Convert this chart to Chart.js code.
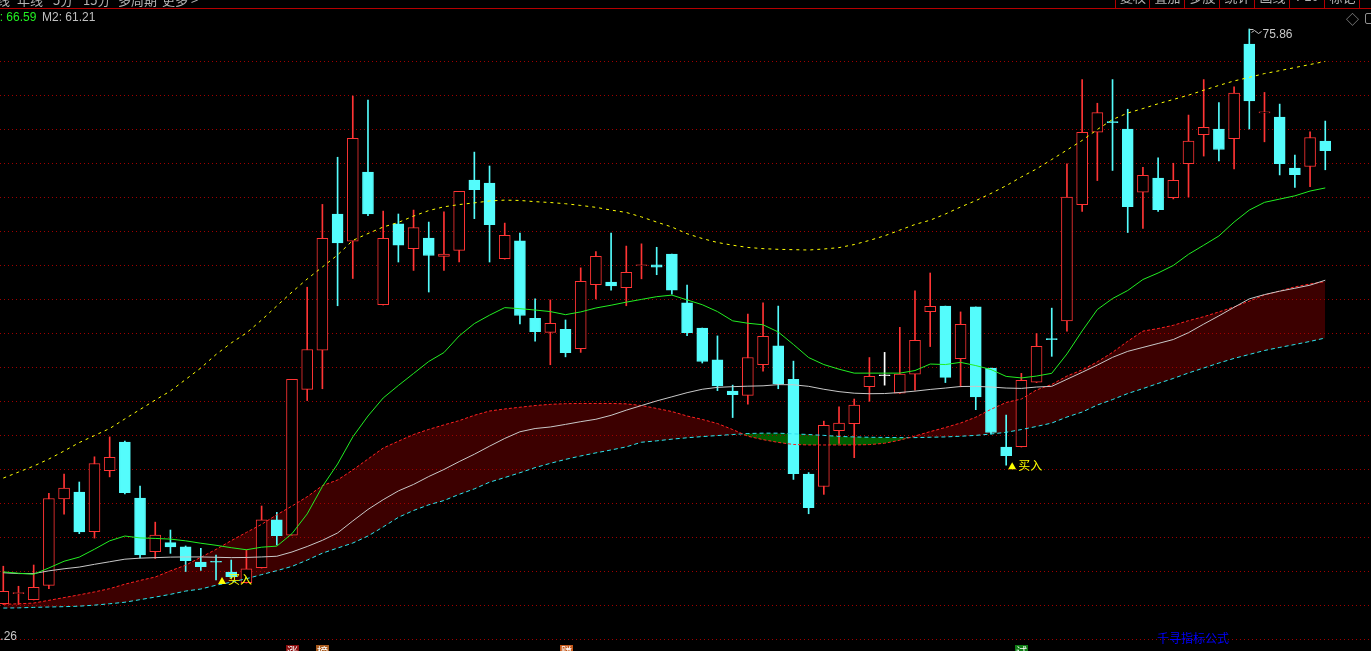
<!DOCTYPE html>
<html>
<head>
<meta charset="utf-8">
<script src="https://cdn.jsdelivr.net/npm/chart.js"></script>
<style>
  html, body { margin: 0; padding: 0; background: #000; overflow: hidden; }
  #wrap { position: relative; width: 1371px; height: 651px; overflow: hidden; }
  #box { position: absolute; left: 0; top: 0; width: 1371px; height: 651px; }
  .cn { font-family: "Noto Sans CJK SC", "DejaVu Sans", sans-serif; }
  .num { font-family: "Liberation Sans", Arial, sans-serif; }
  #menu { position: absolute; top: -7px; left: 0; height: 14px; color: #b4b4b4; font-size: 13px; line-height: 14px; }
  #menu span { position: absolute; white-space: nowrap; }
  #topline { position: absolute; left: 0; top: 8px; width: 1371px; height: 1px; background: #b40000; }
  .btn { position: absolute; top: -10px; height: 18px; border-left: 1px solid #b40000; color: #b4b4b4;
         font-size: 13px; line-height: 14px; text-align: center; }
  #legend { position: absolute; top: 10px; font-size: 12px; line-height: 14px; white-space: nowrap; }
  #brand { position: absolute; left: 1157px; top: 631px; color: #0000ff; font-size: 12px; line-height: 14px; }
</style>
</head>
<body>
<div id="wrap">
  <div id="box"><canvas id="kline"></canvas></div>

  <!-- top toolbar, mostly scrolled off the top -->
  <div id="menu" class="cn">
    <span style="left:-16px">周线</span>
    <span style="left:17px">年线</span>
    <span style="left:53px">5分</span>
    <span style="left:83px">15分</span>
    <span style="left:118px">多周期</span>
    <span style="left:162px">更多 &gt;</span>
  </div>
  <div id="topline"></div>
  <div class="btn cn" style="left:1115px;width:34px">复权</div>
  <div class="btn cn" style="left:1149px;width:35px">叠加</div>
  <div class="btn cn" style="left:1184px;width:35px">多股</div>
  <div class="btn cn" style="left:1219px;width:35px">统计</div>
  <div class="btn cn" style="left:1254px;width:35px">画线</div>
  <div class="btn num" style="left:1289px;width:35px">F10</div>
  <div class="btn cn" style="left:1324px;width:35px">标记</div>
  <div class="btn cn" style="left:1359px;width:20px"></div>

  <div id="legend" class="num" style="left:-17px;color:#22ee22"><span id="m1"></span></div>
  <div id="legend2" class="num" style="position:absolute;top:10px;left:42px;font-size:12px;line-height:14px;color:#c0c0c0;white-space:nowrap"><span id="m2"></span></div>
  <div class="cn" style="position:absolute;left:1346px;top:9px;color:#909090;font-size:13px">◇</div>
  <div style="position:absolute;left:1365px;top:13px;width:8px;height:9px;border:1px solid #909090;border-radius:2px"></div>

  <div id="brand" class="cn">千寻指标公式</div>
</div>

<script>
// candles (price units)
const opens = [42.34, 42.93, 42.58, 43.41, 48.46, 48.86, 46.55, 50.10, 51.77, 48.51,
  45.38, 45.91, 45.66, 44.77, 44.82, 44.19, 43.57, 44.44, 47.23, 46.34,
  54.84, 57.13, 65.07, 63.48, 67.51, 59.78, 64.50, 63.05, 63.67, 62.59,
  62.95, 67.05, 66.88, 62.46, 63.50, 58.99, 58.17, 58.34, 57.21, 60.95,
  61.10, 60.78, 62.05, 62.10, 62.74, 59.89, 58.42, 56.56, 54.75, 54.49,
  56.28, 57.38, 55.43, 49.91, 49.18, 52.43, 52.84, 55.00, 55.64, 54.62,
  55.73, 59.38, 59.70, 56.64, 59.65, 56.09, 51.48, 51.50, 55.26, 57.80,
  58.83, 65.61, 69.84, 70.45, 70.02, 66.34, 67.16, 66.03, 68.00, 69.70,
  70.03, 69.46, 74.98, 70.97, 70.73, 67.75, 67.84, 69.32];
const highs = [44.53, 43.36, 44.60, 48.78, 49.91, 49.44, 50.91, 52.07, 51.83, 49.21,
  47.10, 46.64, 45.71, 45.57, 45.18, 44.89, 45.48, 48.04, 47.67, 55.43,
  60.80, 65.63, 68.38, 71.95, 71.72, 65.24, 65.07, 65.30, 64.60, 65.20,
  66.39, 68.68, 67.87, 64.54, 63.96, 60.12, 60.06, 58.89, 61.93, 62.88,
  63.96, 63.20, 63.33, 63.13, 62.74, 60.93, 58.42, 57.96, 55.09, 59.23,
  59.89, 59.70, 56.49, 49.99, 52.99, 53.82, 54.28, 56.70, 57.00, 58.46,
  60.59, 61.63, 59.70, 59.36, 59.65, 56.09, 53.35, 55.78, 58.10, 59.58,
  68.00, 72.91, 71.53, 72.91, 71.18, 67.79, 68.34, 68.03, 70.84, 72.91,
  71.57, 72.49, 75.86, 72.16, 71.48, 68.50, 69.86, 70.49];
const lows = [42.30, 42.30, 42.56, 43.22, 47.57, 46.43, 46.17, 49.74, 48.74, 45.02,
  44.98, 45.28, 44.22, 44.28, 43.73, 43.84, 43.55, 44.42, 45.77, 46.34,
  54.19, 54.88, 59.72, 61.31, 64.98, 59.76, 62.27, 61.78, 60.52, 61.78,
  62.27, 64.80, 62.27, 62.44, 58.66, 57.66, 56.28, 56.74, 57.00, 60.12,
  60.63, 59.72, 61.29, 61.53, 60.40, 57.98, 56.38, 54.77, 53.20, 53.98,
  55.90, 54.88, 49.59, 47.59, 48.72, 51.69, 50.86, 54.15, 55.09, 54.60,
  54.79, 57.34, 55.24, 54.99, 53.66, 52.24, 50.42, 51.48, 55.24, 56.77,
  58.24, 65.22, 67.02, 67.61, 63.99, 64.23, 65.22, 65.95, 66.06, 68.45,
  68.17, 67.70, 70.03, 69.28, 67.35, 66.62, 66.67, 67.65];
const closes = [43.07, 42.95, 43.30, 48.48, 49.08, 46.53, 50.52, 50.88, 48.82, 45.19,
  46.34, 45.66, 44.85, 44.51, 44.76, 43.92, 44.37, 47.23, 46.31, 55.43,
  57.17, 63.65, 63.39, 69.49, 65.07, 63.65, 63.26, 64.28, 62.65, 62.74,
  66.39, 66.49, 64.45, 63.82, 59.15, 58.21, 58.70, 56.98, 61.14, 62.60,
  60.88, 61.67, 62.07, 61.97, 60.63, 58.15, 56.47, 55.05, 54.54, 56.70,
  57.93, 55.16, 49.93, 47.95, 52.75, 52.88, 53.92, 55.60, 55.64, 55.73,
  57.70, 59.68, 55.54, 58.63, 54.41, 52.33, 50.97, 55.37, 57.35, 57.74,
  66.06, 69.84, 70.98, 70.40, 65.50, 67.33, 65.33, 67.04, 69.32, 70.12,
  68.83, 72.12, 71.67, 70.99, 68.00, 67.37, 69.53, 68.76];

// yellow dotted long average
const maLong = [49.67, 50.02, 50.37, 50.78, 51.25, 51.74, 52.15, 52.56, 53.12, 53.67,
  54.22, 54.75, 55.42, 56.09, 56.88, 57.55, 58.13, 58.89, 59.71, 60.52,
  61.28, 61.98, 62.68, 63.53, 63.93, 64.31, 64.58, 64.95, 65.27, 65.49,
  65.62, 65.72, 65.83, 65.88, 65.86, 65.79, 65.74, 65.67, 65.57, 65.46,
  65.30, 65.16, 64.90, 64.60, 64.31, 63.92, 63.64, 63.41, 63.25, 63.12,
  63.05, 63.01, 62.99, 62.97, 63.03, 63.11, 63.29, 63.53, 63.80, 64.13,
  64.46, 64.71, 65.07, 65.48, 65.85, 66.27, 66.72, 67.23, 67.70, 68.25,
  68.80, 69.36, 70.00, 70.58, 70.96, 71.22, 71.50, 71.75, 72.00, 72.29,
  72.57, 72.83, 73.04, 73.26, 73.43, 73.61, 73.79, 73.97];
// green M1
const ma1 = [44.20, 44.12, 44.06, 44.43, 44.82, 45.06, 45.52, 46.01, 46.29, 46.18,
  46.15, 46.11, 46.01, 45.87, 45.75, 45.61, 45.49, 45.64, 45.70, 46.43,
  47.58, 49.18, 50.49, 52.07, 53.29, 54.34, 55.07, 55.77, 56.47, 56.99,
  57.96, 58.68, 59.17, 59.61, 59.55, 59.47, 59.38, 59.20, 59.36, 59.59,
  59.75, 59.93, 60.09, 60.25, 60.34, 60.06, 59.78, 59.38, 58.84, 58.70,
  58.61, 58.19, 57.46, 56.70, 56.29, 56.02, 55.79, 55.79, 55.79, 55.79,
  55.94, 56.32, 56.29, 56.42, 56.23, 56.00, 55.60, 55.51, 55.62, 55.78,
  56.91, 58.25, 59.50, 60.14, 60.61, 61.25, 61.63, 62.07, 62.72, 63.25,
  63.79, 64.60, 65.30, 65.75, 65.94, 66.13, 66.41, 66.59];
// white M2
const ma2 = [44.15, 44.10, 44.10, 44.26, 44.38, 44.48, 44.64, 44.79, 44.94, 45.00,
  45.03, 45.06, 45.07, 45.07, 45.05, 45.03, 45.04, 45.07, 45.11, 45.36,
  45.68, 46.04, 46.47, 47.17, 47.84, 48.41, 48.92, 49.30, 49.76, 50.17,
  50.63, 51.06, 51.53, 51.98, 52.37, 52.56, 52.65, 52.80, 52.96, 53.10,
  53.33, 53.63, 53.90, 54.17, 54.41, 54.65, 54.85, 54.96, 55.00, 55.03,
  55.05, 55.12, 55.11, 55.02, 54.85, 54.71, 54.62, 54.59, 54.60, 54.66,
  54.74, 54.84, 54.92, 55.01, 55.02, 54.98, 54.92, 54.90, 54.98, 55.02,
  55.43, 55.84, 56.26, 56.71, 57.06, 57.29, 57.52, 57.75, 58.15, 58.65,
  59.13, 59.63, 60.12, 60.37, 60.57, 60.74, 60.92, 61.21];
// red dashed band top and cyan dashed band bottom
const bandUp = [42.31, 42.34, 42.38, 42.54, 42.70, 42.86, 43.03, 43.22, 43.48, 43.70,
  43.90, 44.26, 44.59, 45.05, 45.51, 46.02, 46.50, 46.97, 47.53, 48.04,
  48.58, 49.23, 49.56, 50.14, 50.78, 51.42, 51.82, 52.21, 52.51, 52.77,
  53.02, 53.33, 53.58, 53.70, 53.80, 53.90, 53.97, 54.01, 54.02, 54.02,
  54.02, 54.00, 53.90, 53.73, 53.55, 53.29, 53.09, 52.85, 52.50, 52.11,
  51.91, 51.75, 51.63, 51.60, 51.60, 51.60, 51.60, 51.62, 51.70, 51.88,
  52.12, 52.38, 52.62, 52.88, 53.22, 53.68, 54.08, 54.28, 54.81, 55.13,
  55.62, 55.98, 56.45, 57.00, 57.65, 58.24, 58.39, 58.58, 58.85, 59.08,
  59.36, 59.65, 59.99, 60.35, 60.58, 60.82, 60.99, 61.13];
const bandDown = [42.09, 42.10, 42.13, 42.15, 42.17, 42.20, 42.26, 42.34, 42.43, 42.58,
  42.73, 42.89, 43.08, 43.20, 43.42, 43.60, 43.80, 44.04, 44.27, 44.52,
  44.89, 45.29, 45.59, 45.88, 46.29, 46.82, 47.38, 47.78, 48.11, 48.36,
  48.72, 49.04, 49.43, 49.70, 49.98, 50.28, 50.53, 50.76, 50.96, 51.14,
  51.31, 51.49, 51.76, 51.84, 51.94, 52.02, 52.09, 52.15, 52.21, 52.27,
  52.29, 52.29, 52.25, 52.21, 52.16, 52.10, 52.07, 52.05, 52.04, 52.03,
  52.03, 52.05, 52.07, 52.11, 52.16, 52.24, 52.34, 52.50, 52.68, 52.88,
  53.23, 53.52, 53.93, 54.25, 54.60, 54.89, 55.19, 55.48, 55.80, 56.09,
  56.38, 56.65, 56.88, 57.11, 57.29, 57.46, 57.64, 57.84];

// horizontal dotted price lines, bottom one is labelled 40.26
const gridValues = [40.26, 42.24, 44.23, 46.21, 48.19, 50.18, 52.16, 54.14, 56.13,
  58.11, 60.10, 62.08, 64.06, 66.05, 68.03, 70.01, 72.00, 73.98];

// signal marks
const buyIdx = [14, 66];
const badgeIdx = [19, 21, 37, 67];
const badgeText = ['涨', '榜', '赚', '试'];
const badgeColor = ['#8c0e0e', '#a85a1c', '#c4581a', '#0e7c14'];

const RED = '#ff3434';
const CYAN = '#54fcfc';

function candleColor(i) {
    if (closes[i] > opens[i]) return RED;
    if (closes[i] < opens[i]) return CYAN;
    return '#ffffff';
}

function series(vals) {
    return vals.map((v, i) => ({ x: i, y: v }));
}

const idx = opens.map((v, i) => i);
const colors = idx.map(candleColor);

document.getElementById('m1').textContent = 'M1: ' + ma1[ma1.length - 1].toFixed(2);
document.getElementById('m2').textContent = 'M2: ' + ma2[ma2.length - 1].toFixed(2);

// grid + labels drawn straight on the canvas
const marks = {
    id: 'marks',
    beforeDatasetsDraw(chart) {
        const ctx = chart.ctx;
        const y = chart.scales.y;
        ctx.save();
        ctx.strokeStyle = '#a00000';
        ctx.lineWidth = 1;
        ctx.setLineDash([1, 3]);
        gridValues.forEach(v => {
            const py = Math.round(y.getPixelForValue(v)) + 0.5;
            ctx.beginPath();
            ctx.moveTo(0, py);
            ctx.lineTo(chart.width, py);
            ctx.stroke();
        });
        ctx.restore();
    },
    afterDatasetsDraw(chart) {
        const ctx = chart.ctx;
        const x = chart.scales.x;
        const y = chart.scales.y;
        ctx.save();

        // buy signals under the low of the bar
        buyIdx.forEach(i => {
            const px = x.getPixelForValue(i);
            const py = y.getPixelForValue(lows[i]);
            ctx.fillStyle = '#ffff00';
            ctx.beginPath();
            ctx.moveTo(px + 2, py + 4);
            ctx.lineTo(px + 10, py + 4);
            ctx.lineTo(px + 6, py - 3);
            ctx.closePath();
            ctx.fill();
            ctx.font = '12px "Noto Sans CJK SC", sans-serif';
            ctx.textBaseline = 'middle';
            ctx.fillText('买入', px + 12, py);
        });

        // highest price flag
        let hi = 0;
        highs.forEach((v, i) => { if (v > highs[hi]) hi = i; });
        const hx = Math.round(x.getPixelForValue(hi)) + 0.5;
        const hy = Math.round(y.getPixelForValue(highs[hi])) + 0.5;
        ctx.strokeStyle = '#c8c8c8';
        ctx.lineWidth = 1;
        ctx.beginPath();
        ctx.moveTo(hx, hy);
        ctx.lineTo(hx + 4, hy);
        ctx.moveTo(hx + 2, hy + 3);
        ctx.lineTo(hx + 5, hy + 1);
        ctx.lineTo(hx + 9, hy + 4);
        ctx.lineTo(hx + 12, hy + 2);
        ctx.stroke();
        ctx.fillStyle = '#c8c8c8';
        ctx.font = '12px "Liberation Sans", Arial, sans-serif';
        ctx.textBaseline = 'middle';
        ctx.fillText(highs[hi].toFixed(2), hx + 13, hy + 5);

        // bottom price label, clipped by the left edge
        ctx.textAlign = 'right';
        ctx.fillText(gridValues[0].toFixed(2), 17, y.getPixelForValue(gridValues[0]) - 3);
        ctx.textAlign = 'left';

        // small coloured tags at the bottom edge
        badgeIdx.forEach((i, k) => {
            const px = Math.round(x.getPixelForValue(i));
            ctx.fillStyle = badgeColor[k];
            ctx.fillRect(px - 6, 645, 13, 14);
            ctx.fillStyle = '#ffffff';
            ctx.font = '11px "Noto Sans CJK SC", sans-serif';
            ctx.textBaseline = 'top';
            ctx.fillText(badgeText[k], px - 5, 646);
        });
        ctx.restore();
    }
};

new Chart(document.getElementById('kline').getContext('2d'), {
    type: 'bar',
    data: {
        datasets: [
            { type: 'line', data: series(maLong), borderColor: '#ffff00', borderWidth: 1,
              borderDash: [3, 4], pointRadius: 0, fill: false, order: 1 },
            { type: 'line', data: series(ma1), borderColor: '#22ee22', borderWidth: 1,
              pointRadius: 0, fill: false, order: 0 },
            { type: 'line', data: series(ma2), borderColor: '#c8c8c8', borderWidth: 1,
              pointRadius: 0, fill: false, order: 2 },
            { type: 'line', data: series(bandUp), borderColor: '#ff2020', borderWidth: 1,
              borderDash: [3, 2], pointRadius: 0, order: 3,
              fill: { target: 4, above: '#3c0000', below: '#005e00' } },
            { type: 'line', data: series(bandDown), borderColor: '#30e0f0', borderWidth: 1,
              borderDash: [4, 3], pointRadius: 0, fill: false, order: 4 },
            // bodies
            { data: idx.map(i => ({ x: i, y: [opens[i], closes[i]] })),
              backgroundColor: idx.map(i => colors[i] === RED ? '#000000' : colors[i]),
              borderColor: colors, borderWidth: 1, borderSkipped: false,
              barThickness: 11, minBarLength: 1, grouped: false, order: 10 },
            // wicks
            { data: idx.map(i => ({ x: i, y: [lows[i], highs[i]] })),
              backgroundColor: colors, borderWidth: 0,
              barThickness: 1, grouped: false, order: 11 }
        ]
    },
    options: {
        responsive: true,
        maintainAspectRatio: false,
        devicePixelRatio: 1,
        animation: false,
        events: [],
        layout: { padding: 0 },
        scales: {
            x: { type: 'linear', display: false, offset: false, min: -0.217, max: 90.01 },
            y: { type: 'linear', display: false, min: 39.585, max: 77.551 }
        },
        plugins: {
            legend: { display: false },
            tooltip: { enabled: false },
            filler: { drawTime: 'beforeDatasetsDraw' }
        }
    },
    plugins: [marks]
});
</script>
</body>
</html>
